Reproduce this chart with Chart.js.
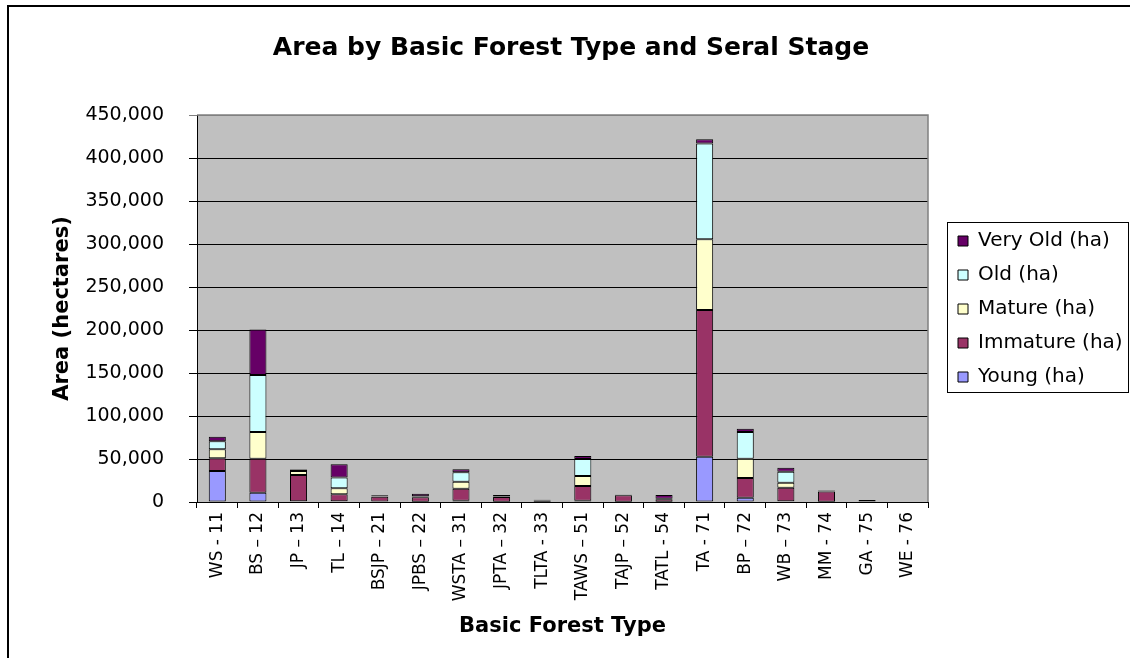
<!DOCTYPE html>
<html>
<head>
<meta charset="utf-8">
<script src="https://cdn.jsdelivr.net/npm/chart.js@4"></script>
<style>
body{margin:0;background:#fff;overflow:hidden}
canvas{display:block}
</style>
</head>
<body>
<canvas id="chart" width="1130" height="658"></canvas>
<script>
// forest types and seral stage areas (ha)
const types=["WS - 11","BS \u2013 12","JP \u2013 13","TL \u2013 14","BSJP \u2013 21","JPBS \u2013 22","WSTA \u2013 31","JPTA \u2013 32","TLTA - 33","TAWS \u2013 51","TAJP \u2013 52","TATL - 54","TA - 71","BP \u2013 72","WB \u2013 73","MM - 74","GA - 75","WE - 76"];
const young=[36000,10800,1000,1000,500,300,1500,300,300,1500,300,300,52700,5000,1000,300,200,0];
const immature=[14800,39600,30500,8000,5500,5200,14000,5500,1500,17000,7500,3000,170600,22900,15700,11900,300,0];
const mature=[10500,31000,4500,7000,300,500,8000,300,100,11600,100,300,82200,22500,5800,100,100,0];
const old=[9300,66300,1500,12400,300,700,11000,400,100,19800,100,300,111500,31000,12800,100,200,0];
const veryOld=[5300,53000,500,15500,1200,3000,3500,1500,700,3500,300,4200,4700,3900,4600,900,1500,0];
const yTicks=[0,50000,100000,150000,200000,250000,300000,350000,400000,450000];

const FONT='"DejaVu Sans", sans-serif';

const frame={
id:'frame',
beforeDraw(chart){
const {ctx,chartArea:a}=chart;
ctx.save();
ctx.fillStyle='#fff';
ctx.fillRect(0,0,chart.width,chart.height);
ctx.fillStyle='#C0C0C0';
ctx.fillRect(a.left,a.top,a.right-a.left,a.bottom-a.top);
ctx.restore();
},
afterLayout(chart){
// legend box and title go where they sit in the picture
Object.assign(chart.legend,{left:944,top:217,right:1128,bottom:440,width:184,height:223});
Object.assign(chart.titleBlock,{left:0,right:1142,width:1142});
},
afterDraw(chart){
const {ctx,chartArea:a}=chart;
ctx.save();
ctx.strokeStyle='#808080';
ctx.lineWidth=1.5;
ctx.beginPath();
ctx.moveTo(a.left,a.top);ctx.lineTo(a.right,a.top);ctx.lineTo(a.right,a.bottom);
ctx.stroke();
ctx.strokeStyle='#000';
ctx.lineWidth=1;
ctx.strokeRect(947.5,222.5,181,170);
ctx.lineWidth=2;
ctx.strokeRect(8,6,1200,700);
ctx.restore();
}
};

const ds=(label,data,color)=>({label,data,backgroundColor:color,borderColor:'#000',borderWidth:1,borderSkipped:false,barPercentage:0.42,categoryPercentage:1});

const ctx=document.getElementById('chart');
const chart=new Chart(ctx,{
type:'bar',
data:{labels:types,datasets:[
ds('Young (ha)',young,'#9999FF'),
ds('Immature (ha)',immature,'#993366'),
ds('Mature (ha)',mature,'#FFFFCC'),
ds('Old (ha)',old,'#CCFFFF'),
ds('Very Old (ha)',veryOld,'#660066')
]},
options:{
responsive:false,
animation:false,
layout:{padding:{left:0,right:201,top:0,bottom:0}},
plugins:{
title:{display:true,text:'Area by Basic Forest Type and Seral Stage',color:'#000',
font:{family:FONT,size:25,weight:'bold'},padding:{top:33,bottom:52}},
legend:{position:'right',align:'start',reverse:true,maxWidth:1,
labels:{color:'#000',font:{family:FONT,size:20},boxWidth:10,boxHeight:10,padding:14}},
tooltip:{enabled:false}
},
scales:{
x:{stacked:true,
grid:{drawOnChartArea:false,drawTicks:true,tickLength:6,color:'#000'},
border:{color:'#000',width:1},
ticks:{color:'#000',font:{family:FONT,size:17},minRotation:90,maxRotation:90,padding:4,autoSkip:false},
title:{display:true,text:'Basic Forest Type',color:'#000',font:{family:FONT,size:21,weight:'bold'},padding:{top:0,bottom:19}},
afterFit(s){s.height=156;}
},
y:{stacked:true,min:0,max:450000,
afterBuildTicks(s){s.ticks=yTicks.map(v=>({value:v}));},
grid:{color:c=>c.tick&&c.tick.value===450000?'#808080':'#000',lineWidth:1,tickLength:8},
border:{color:'#000',width:1},
ticks:{color:'#000',font:{family:FONT,size:19},padding:25,callback:v=>v.toLocaleString('en-US')},
title:{display:true,text:'Area (hectares)',color:'#000',font:{family:FONT,size:21,weight:'bold'},padding:{top:50,bottom:0}},
afterFit(s){s.width=197;}
}
}
},
plugins:[frame]
});
</script>
</body>
</html>
